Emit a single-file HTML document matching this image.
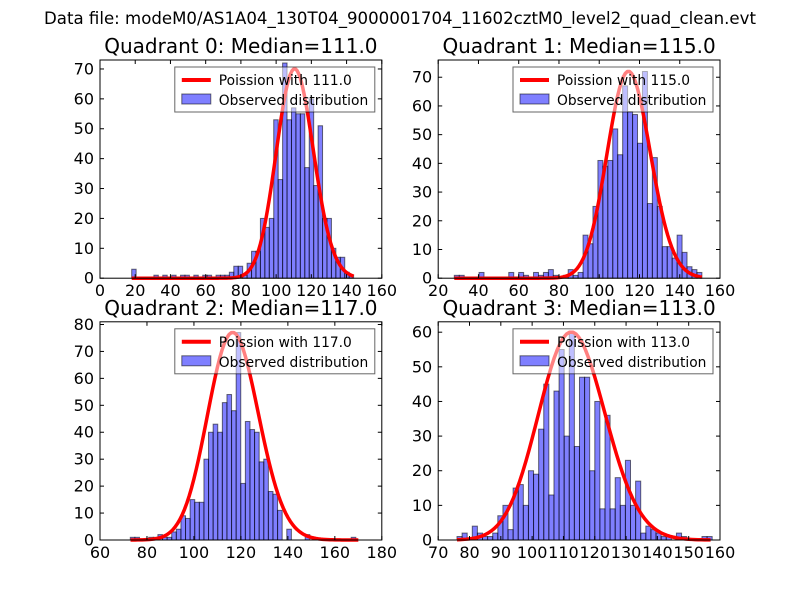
<!DOCTYPE html>
<html><head><meta charset="utf-8"><style>
body{margin:0;background:#fff;}
svg{display:block;font-family:"DejaVu Sans","Liberation Sans",sans-serif;}
</style></head><body>
<svg id="fig" width="800" height="600" viewBox="0 0 800 600">
<rect width="800" height="600" fill="#fff"/>
<text x="400" y="24" text-anchor="middle" font-size="16.6">Data file: modeM0/AS1A04_130T04_9000001704_11602cztM0_level2_quad_clean.evt</text>
</svg>
<script>
// Quadrant 0
const q0Counts=[3,0,0,0,0,1,0,1,0,1,0,1,1,0,1,0,1,1,0,1,1,1,2,4,4,1,5,9,9,20,17,20,53,33,72,53,57,55,55,37,60,31,51,20,20,10,7,7,2,1];
const q0Start=18, q0Width=2.52, q0Median=111, q0CurvePeak=70;
const q0XTicks=[0,20,40,60,80,100,120,140,160];
const q0YTicks=[0,10,20,30,40,50,60,70];
// Quadrant 1
const q1Counts=[1,1,0,0,0,2,0,0,0,0,0,2,0,2,1,0,2,1,2,3,1,0,1,3,1,2,15,12,25,41,39,41,52,43,67,58,57,47,72,26,42,25,11,11,7,15,9,4,3,2];
const q1Start=28, q1Width=2.46, q1Median=115, q1CurvePeak=72;
const q1XTicks=[20,40,60,80,100,120,140,160];
const q1YTicks=[0,10,20,30,40,50,60,70];
// Quadrant 2
const q2Counts=[1,1,0,0,1,1,2,1,1,3,4,9,8,15,14,14,30,40,43,40,51,54,48,77,21,44,41,40,29,30,18,17,11,0,4,0,0,0,2,0,0,0,0,0,0,0,0,0,1,0];
const q2Start=72.9, q2Width=1.96, q2Median=117, q2CurvePeak=77;
const q2XTicks=[60,80,100,120,140,160,180];
const q2YTicks=[0,10,20,30,40,50,60,70,80];
// Quadrant 3
const q3Counts=[1,2,0,4,2,1,1,2,7,10,3,15,16,10,20,19,32,45,13,43,55,30,60,27,47,47,20,40,9,36,9,18,10,23,10,17,2,4,3,2,1,1,0,2,1,0,0,0,1,1];
const q3Start=76, q3Width=1.63, q3Median=113, q3CurvePeak=60;
const q3XTicks=[70,80,90,100,110,120,130,140,150,160];
const q3YTicks=[0,10,20,30,40,50,60];

const NS="http://www.w3.org/2000/svg";
const fig=document.getElementById('fig');
function el(tag,attrs,parent){const e=document.createElementNS(NS,tag);for(const k in attrs)e.setAttribute(k,attrs[k]);(parent||fig).appendChild(e);return e;}
function lgamma(x){return (x-0.5)*Math.log(x)-x+0.5*Math.log(2*Math.PI)+1/(12*x)-1/(360*x*x*x);}
function pois(k,l){return Math.exp(k*Math.log(l)-l-lgamma(k+1));}

function panel(idx,box,xmin,xmax,ymax,counts,start,width,median,peak,xt,yt){
  const g=el('g',{});
  
  
  const X=v=>box.l+(v-xmin)/(xmax-xmin)*(box.r-box.l);
  const Y=v=>box.b-v/ymax*(box.b-box.t);
  const t=el('text',{x:(box.l+box.r)/2,y:box.t-7,'text-anchor':'middle','font-size':'20'},g);
  t.textContent='Quadrant '+idx+': Median='+median.toFixed(1);
  
  
  counts.forEach((c,i)=>{
    if(c<=0)return;
    const x0=X(start+i*width),x1=X(start+(i+1)*width);
    const r=el('rect',{x:x0,y:Y(c),width:x1-x0,height:Y(0)-Y(c),fill:'#0000ff','fill-opacity':'0.5',stroke:'#000','stroke-opacity':'0.55','stroke-width':'1'},g);
    
    
  });
  const kmin=Math.ceil(start),kmax=Math.floor(start+counts.length*width);
  let pmax=0;for(let k=kmin;k<=kmax;k++)pmax=Math.max(pmax,pois(k,median));
  const scale=peak/pmax;
  let d='';
  for(let k=kmin;k<=kmax;k++){d+=(k===kmin?'M':'L')+X(k).toFixed(2)+','+Y(pois(k,median)*scale).toFixed(2);}
  const p=el('path',{d:d,fill:'none',stroke:'#ff0000','stroke-width':'3.5','stroke-linejoin':'round'},g);
  
  
  const f=el('rect',{x:box.l,y:box.t,width:box.r-box.l,height:box.b-box.t,fill:'none',stroke:'#000','stroke-width':'1'},g);
  
  
  xt.forEach(v=>{
    const x=X(v);
    el('line',{x1:x,x2:x,y1:box.b,y2:box.b-4,stroke:'#000'},g);
    el('line',{x1:x,x2:x,y1:box.t,y2:box.t+4,stroke:'#000'},g);
    const tl=el('text',{x:x,y:box.b+18,'text-anchor':'middle','font-size':'16'},g);
    tl.textContent=v;
    
    
  });
  yt.forEach(v=>{
    const y=Y(v);
    el('line',{x1:box.l,x2:box.l+4,y1:y,y2:y,stroke:'#000'},g);
    el('line',{x1:box.r,x2:box.r-4,y1:y,y2:y,stroke:'#000'},g);
    const tl=el('text',{x:box.l-6,y:y+5.5,'text-anchor':'end','font-size':'16'},g);
    tl.textContent=v;
    
    
  });
  const lx=box.r-207,ly=box.t+7;
  const lg=el('g',{},g);
  
  
  el('rect',{x:lx,y:ly,width:200,height:45,fill:'#fff','fill-opacity':'0.5',stroke:'#000','stroke-opacity':'0.6'},lg);
  el('line',{x1:lx+7,x2:lx+36,y1:ly+13,y2:ly+13,stroke:'#ff0000','stroke-width':'4'},lg);
  el('rect',{x:lx+7,y:ly+27,width:29,height:10,fill:'#0000ff','fill-opacity':'0.5',stroke:'#000','stroke-opacity':'0.55'},lg);
  const a=el('text',{x:lx+44,y:ly+18,'font-size':'13.8'},lg);a.textContent='Poission with '+median.toFixed(1);
  
  
  const b=el('text',{x:lx+44,y:ly+38,'font-size':'13.8'},lg);b.textContent='Observed distribution';
  
  
}
panel(0,{l:100,r:381.8,t:60,b:278.2},0,160,73,q0Counts,q0Start,q0Width,q0Median,q0CurvePeak,q0XTicks,q0YTicks);
panel(1,{l:438.2,r:720,t:60,b:278.2},20,160,76,q1Counts,q1Start,q1Width,q1Median,q1CurvePeak,q1XTicks,q1YTicks);
panel(2,{l:100,r:381.8,t:321.8,b:540},60,180,81,q2Counts,q2Start,q2Width,q2Median,q2CurvePeak,q2XTicks,q2YTicks);
panel(3,{l:438.2,r:720,t:321.8,b:540},70,160,63,q3Counts,q3Start,q3Width,q3Median,q3CurvePeak,q3XTicks,q3YTicks);
</script>
</body></html>
